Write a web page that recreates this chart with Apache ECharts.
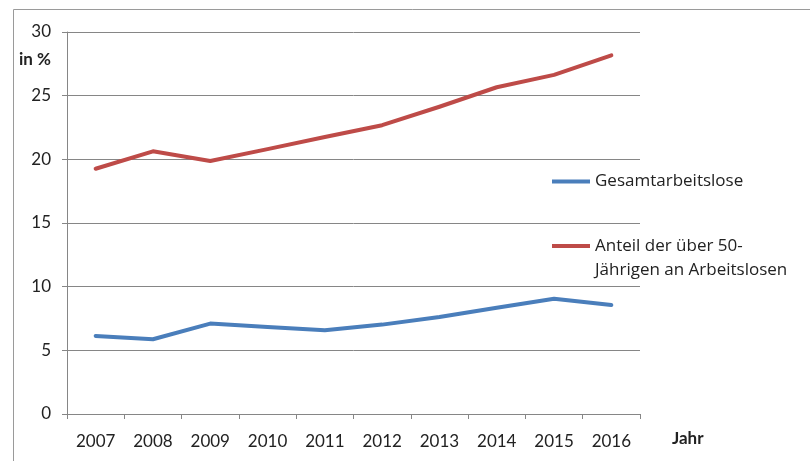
<!DOCTYPE html>
<html>
<head>
<meta charset="utf-8">
<script src="https://cdn.jsdelivr.net/npm/echarts@6/dist/echarts.min.js"></script>
<style>
  html, body { margin: 0; padding: 0; background: #fff; }
  #chart { width: 810px; height: 461px; }
</style>
</head>
<body>
<div id="chart"></div>
<script>
// Jahre (x-Achse)
var years = ["2007", "2008", "2009", "2010", "2011", "2012", "2013", "2014", "2015", "2016"];
// Arbeitslosenquote gesamt, in %
var gesamt = [6.13, 5.87, 7.1, 6.84, 6.58, 7.02, 7.62, 8.35, 9.05, 8.56];
// Anteil der über 50-Jährigen an Arbeitslosen, in %
var ueber50 = [19.26, 20.63, 19.87, 20.8, 21.75, 22.68, 24.13, 25.66, 26.63, 28.16];
var yTicks = [0, 5, 10, 15, 20, 25, 30];

var nameGesamt = "Gesamtarbeitslose";
var nameUeber50 = "Anteil der über 50-Jährigen an Arbeitslosen";

var font = "Lato";
var legendFont = "Open Sans";
var grau = "#868686";

var myChart = echarts.init(document.getElementById("chart"));

var option = {
  backgroundColor: "#fff",
  animation: false,
  textStyle: { fontFamily: font },
  grid: { left: 67, right: 170, top: 32, bottom: 47 },
  graphic: [
    { // Rahmen
      type: "rect", left: 11, top: 7, silent: true,
      shape: { width: 830, height: 480 },
      style: { fill: null, stroke: "#9a9a9a", lineWidth: 1 }
    },
    {
      type: "text", left: 19, top: 51,
      style: { text: "in %", fontFamily: font, fontWeight: "bold", fontSize: 17, fill: "#222" }
    },
    {
      type: "text", left: 672, top: 430,
      style: { text: "Jahr", fontFamily: font, fontWeight: "bold", fontSize: 17, fill: "#222" }
    }
  ],
  legend: [
    {
      data: [nameGesamt],
      orient: "vertical",
      icon: "rect",
      left: 552, top: 173, padding: 0,
      itemWidth: 38, itemHeight: 4,
      textStyle: { fontFamily: legendFont, fontSize: 17, color: "#222" }
    },
    {
      data: [nameUeber50],
      orient: "vertical",
      icon: "rect",
      left: 552, top: 210, padding: 0,
      itemWidth: 38, itemHeight: 4,
      formatter: function () {
        return "\nAnteil der über 50-\nJährigen an Arbeitslosen";
      },
      textStyle: { fontFamily: legendFont, fontSize: 17, color: "#222", lineHeight: 24 }
    }
  ],
  xAxis: {
    type: "category",
    data: years,
    boundaryGap: true,
    axisLine: { show: true, lineStyle: { color: grau, width: 1 } },
    axisTick: { show: true, length: 5, lineStyle: { color: grau } },
    axisLabel: { color: "#222", fontSize: 17, margin: 19, fontFamily: font },
    splitLine: { show: false }
  },
  yAxis: {
    type: "value",
    min: yTicks[0],
    max: yTicks[yTicks.length - 1],
    interval: 5,
    axisLine: { show: true, lineStyle: { color: grau, width: 1 } },
    axisTick: { show: true, length: 5, lineStyle: { color: grau } },
    axisLabel: { color: "#222", fontSize: 17, margin: 16, fontFamily: font },
    splitLine: { show: true, lineStyle: { color: grau, width: 1 } }
  },
  series: [
    {
      name: nameGesamt,
      type: "line",
      data: gesamt,
      symbol: "none",
      color: "#4A7EBB",
      lineStyle: { width: 4, color: "#4A7EBB", cap: "round", join: "round" }
    },
    {
      name: nameUeber50,
      type: "line",
      data: ueber50,
      symbol: "none",
      color: "#BE4B48",
      lineStyle: { width: 4, color: "#BE4B48", cap: "round", join: "round" }
    }
  ]
};

myChart.setOption(option);
window.addEventListener("resize", function () {
  myChart.resize();
});
</script>
</body>
</html>
